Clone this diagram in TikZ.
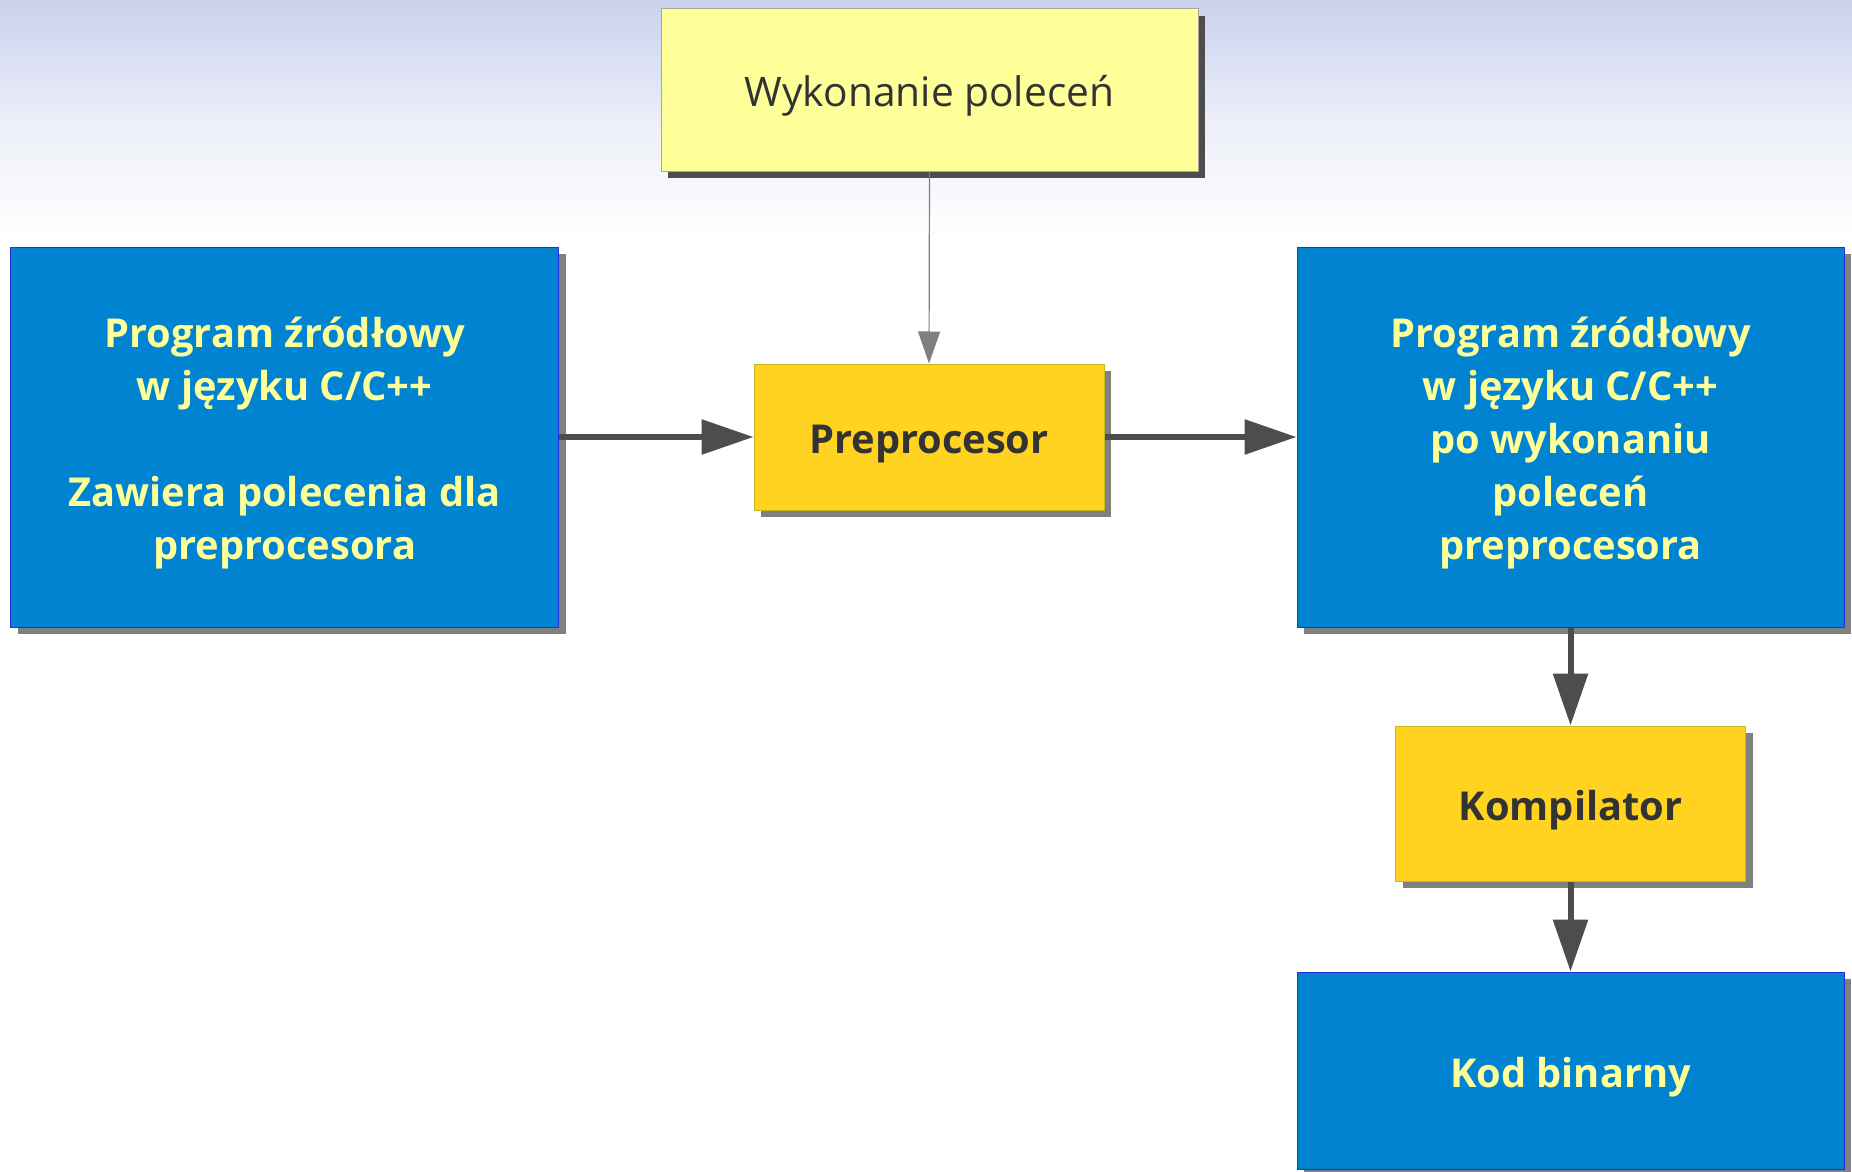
\documentclass[tikz,border=0pt]{standalone}
\usepackage{fontspec}
\setmainfont{Open Sans}
\usetikzlibrary{arrows.meta,shadows}
\definecolor{boxblue}{HTML}{0084D1}
\definecolor{blueedge}{HTML}{2A2AE0}
\definecolor{textyellow}{HTML}{FFFF99}
\definecolor{stepyellow}{HTML}{FFD320}
\definecolor{yellowedge}{HTML}{C8B820}
\definecolor{paleyellow}{HTML}{FFFF99}
\definecolor{darktext}{HTML}{333333}
\definecolor{arrowgray}{HTML}{4D4D4D}
\definecolor{shadowgray}{HTML}{808080}
\definecolor{skytop}{HTML}{C9D1EC}
% centred lines, set a little below the middle of the box
\newcommand\boxtext[1]{\raisebox{-6pt}[\height][\depth]{\begin{tabular}{@{}c@{}}#1\end{tabular}}}
\tikzset{
  boxshadow/.style={drop shadow={shadow xshift=7pt, shadow yshift=-7pt, fill=shadowgray, opacity=1}},
  bluebox/.style={rectangle, draw=blueedge, line width=1pt, fill=boxblue, text=textyellow,
    font=\bfseries\fontsize{39.8}{53}\selectfont, boxshadow},
  stepbox/.style={rectangle, draw=yellowedge, line width=1pt, fill=stepyellow, text=darktext,
    font=\bfseries\fontsize{39.8}{53}\selectfont, boxshadow},
  notebox/.style={rectangle, draw=gray!70, line width=1pt, fill=paleyellow, text=darktext,
    font=\fontsize{40.7}{53}\selectfont,
    drop shadow={shadow xshift=7pt, shadow yshift=-7pt, fill=arrowgray, opacity=1}},
  flow/.style={draw=arrowgray, line width=6pt, -{Triangle[length=52pt,width=34pt]}, arrowgray},
  hint/.style={draw=gray, line width=1.2pt, -{Triangle[length=32pt,width=22pt]}, gray}
}
\begin{document}
\begin{tikzpicture}[x=1pt,y=-1pt]
\useasboundingbox (0,0) rectangle (1852,1172);
% page background with a pale sky band along the top
\fill[white] (0,0) rectangle (1852,1172);
\shade[top color=skytop, bottom color=white, middle color=skytop!35!white] (0,0) rectangle (1852,240);

\node[notebox, minimum width=537pt, minimum height=162pt] (cmd) at (929.5,90) {\boxtext{Wykonanie poleceń}};
\node[bluebox, minimum width=548pt, minimum height=380pt] (src) at (284.7,437)
  {\boxtext{Program źródłowy\\ w języku C/C++\\ \\ Zawiera polecenia dla\\ preprocesora}};
\node[stepbox, minimum width=350pt, minimum height=146pt] (pre) at (929,437) {\boxtext{Preprocesor}};
\node[bluebox, minimum width=547pt, minimum height=380pt] (out) at (1570.5,437)
  {\boxtext{Program źródłowy\\ w języku C/C++\\ po wykonaniu\\ poleceń\\ preprocesora}};
\node[stepbox, minimum width=350pt, minimum height=155pt] (comp) at (1570.5,803.5) {\boxtext{Kompilator}};
\node[bluebox, minimum width=547pt, minimum height=197pt] (bin) at (1570.5,1070.5) {\boxtext{Kod binarny}};

\draw[hint] (cmd.south) -- (pre.north);
\draw[flow] (src.east) -- (pre.west);
\draw[flow] (pre.east) -- (out.west);
\draw[flow] (out.south) -- (comp.north);
\draw[flow] (comp.south) -- (bin.north);
\end{tikzpicture}
\end{document}
